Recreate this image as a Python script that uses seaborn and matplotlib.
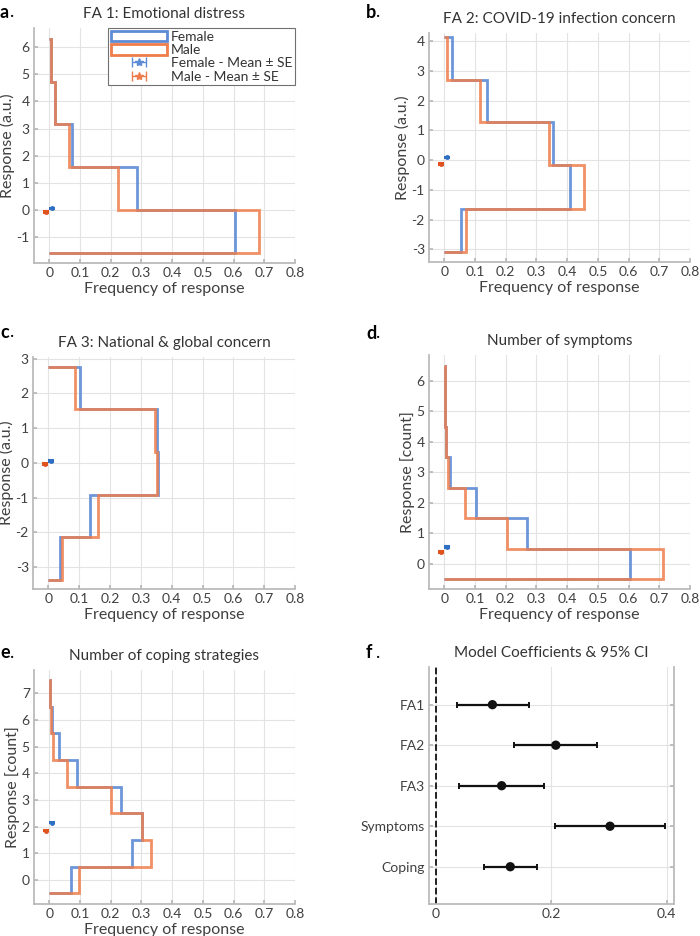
import numpy as np
import matplotlib.pyplot as plt
import seaborn as sns
from matplotlib.patches import Patch

# values
fa1_edges = [-1.57, 0.0, 1.58, 3.15, 4.72, 6.30]
fa1_female = [0.606, 0.284, 0.073, 0.018, 0.004]
fa1_male = [0.682, 0.225, 0.063, 0.017, 0.004]
fa1_mean = [0.06, -0.08]

fa2_edges = [-3.08, -1.63, -0.18, 1.27, 2.71, 4.16]
fa2_female = [0.055, 0.408, 0.354, 0.138, 0.025]
fa2_male = [0.072, 0.456, 0.341, 0.116, 0.009]
fa2_mean = [0.09, -0.12]

fa3_edges = [-3.37, -2.14, -0.91, 0.32, 1.54, 2.77]
fa3_female = [0.038, 0.134, 0.354, 0.351, 0.103]
fa3_male = [0.045, 0.162, 0.352, 0.346, 0.085]
fa3_mean = [0.06, -0.04]

symp_edges = [-0.5, 0.5, 1.5, 2.5, 3.5, 4.5, 5.5, 6.5]
symp_female = [0.603, 0.269, 0.102, 0.020, 0.004, 0.001, 0.001]
symp_male = [0.711, 0.203, 0.068, 0.013, 0.004, 0.001, 0.001]
symp_mean = [0.56, 0.40]

cope_edges = [-0.5, 0.5, 1.5, 2.5, 3.5, 4.5, 5.5, 6.5, 7.5]
cope_female = [0.071, 0.270, 0.303, 0.232, 0.089, 0.031, 0.008, 0.002]
cope_male = [0.096, 0.331, 0.303, 0.201, 0.058, 0.012, 0.005, 0.002]
cope_mean = [2.15, 1.85]

mean_x = [0.01, -0.01]
mean_se = [0.03, 0.03]

coef_names = ['FA1', 'FA2', 'FA3', 'Symptoms', 'Coping']
coef_est = [0.098, 0.208, 0.114, 0.302, 0.129]
coef_lo = [0.036, 0.136, 0.040, 0.206, 0.084]
coef_hi = [0.162, 0.280, 0.188, 0.397, 0.175]

sns.set_theme(style='whitegrid')
plt.rcParams['font.family'] = ['Lato', 'DejaVu Sans']
plt.rcParams['axes.edgecolor'] = '#b8b8b8'
plt.rcParams['grid.color'] = '#e3e3e3'
plt.rcParams['grid.linewidth'] = 0.8
plt.rcParams['xtick.color'] = '#b8b8b8'
plt.rcParams['ytick.color'] = '#b8b8b8'
plt.rcParams['xtick.labelcolor'] = '#404040'
plt.rcParams['ytick.labelcolor'] = '#404040'
plt.rcParams['axes.labelcolor'] = '#404040'
plt.rcParams['text.color'] = '#333333'

c_f_line = '#5d8bd6'
c_m_line = '#ef7d4b'
c_f_mean = '#2f6fc4'
c_m_mean = '#e0531f'

W, H = 700, 936
fig = plt.figure(figsize=(W / 100, H / 100), dpi=100)


def px_axes(l, t, r, b):
    return fig.add_axes([l / W, 1 - b / H, (r - l) / W, (b - t) / H])


def hist_panel(ax, edges, fem, mal, means, ylim, yticks, title, ylabel):
    ax.stairs(fem, edges, orientation='horizontal', baseline=0,
              color=c_f_line, lw=2, alpha=0.9, zorder=3)
    ax.stairs(mal, edges, orientation='horizontal', baseline=0,
              color=c_m_line, lw=2, alpha=0.85, zorder=4)
    for x, y, se, c in zip(mean_x, means, mean_se, [c_f_mean, c_m_mean]):
        ax.errorbar(x, y, yerr=se, fmt='o', color=c, ms=2.5, capsize=2.5,
                    elinewidth=1.2, capthick=1.5, zorder=5)
    ax.set_xlim(-0.05, 0.8)
    ax.set_ylim(*ylim)
    ax.set_xticks(np.arange(0, 0.81, 0.1))
    ax.set_xticklabels(['0'] + ['%.1f' % v for v in np.arange(0.1, 0.81, 0.1)])
    ax.set_yticks(yticks)
    ax.set_yticklabels([str(v) for v in yticks])
    ax.set_xlabel('Frequency of response', fontsize=11.5, labelpad=2)
    ax.set_ylabel(ylabel, fontsize=11.5, labelpad=1)
    ax.set_title(title, fontsize=11, pad=7, color='#333333')
    ax.tick_params(labelsize=10, direction='in', length=3, pad=3,
                   left=True, bottom=True)
    for s in ['top', 'right']:
        ax.spines[s].set_visible(False)
    ax.set_axisbelow(True)


ax_a = px_axes(34, 28, 295, 263)
hist_panel(ax_a, fa1_edges, fa1_female, fa1_male, fa1_mean, (-1.95, 6.7),
           list(range(-1, 7)), 'FA 1: Emotional distress', 'Response (a.u.)')

ax_b = px_axes(429, 33, 690, 262)
hist_panel(ax_b, fa2_edges, fa2_female, fa2_male, fa2_mean, (-3.43, 4.28),
           list(range(-3, 5)), 'FA 2: COVID-19 infection concern', 'Response (a.u.)')

ax_c = px_axes(33, 357, 295, 589)
hist_panel(ax_c, fa3_edges, fa3_female, fa3_male, fa3_mean, (-3.63, 3.05),
           list(range(-3, 4)), 'FA 3: National & global concern', 'Response (a.u.)')

ax_d = px_axes(429, 355, 690, 589)
hist_panel(ax_d, symp_edges, symp_female, symp_male, symp_mean, (-0.82, 6.85),
           list(range(0, 7)), 'Number of symptoms', 'Response [count]')

ax_e = px_axes(34, 670, 295, 904)
hist_panel(ax_e, cope_edges, cope_female, cope_male, cope_mean, (-0.9, 7.87),
           list(range(0, 8)), 'Number of coping strategies', 'Response [count]')

# legend in panel a
h_f = Patch(facecolor='none', edgecolor=c_f_line, lw=2)
h_m = Patch(facecolor='none', edgecolor=c_m_line, lw=2)
e_f = ax_a.errorbar([np.nan], [np.nan], xerr=[1], fmt='*', color=c_f_line,
                    ms=6, capsize=3.5, elinewidth=1)
e_m = ax_a.errorbar([np.nan], [np.nan], xerr=[1], fmt='*', color=c_m_line,
                    ms=6, capsize=3.5, elinewidth=1)
leg = ax_a.legend([h_f, h_m, e_f, e_m],
                  ['Female', 'Male', 'Female - Mean \u00b1 SE', 'Male - Mean \u00b1 SE'],
                  loc='upper right', bbox_to_anchor=(1.0, 1.0), fontsize=10,
                  frameon=True, fancybox=False, framealpha=1, edgecolor='#707070',
                  handlelength=4.0, handleheight=0.8, handletextpad=0.3,
                  labelspacing=0.08, borderpad=0.2, borderaxespad=0)
leg.get_frame().set_linewidth(0.8)
for t in leg.get_texts():
    t.set_color('#333333')

# panel f: coefficients
ax_f = px_axes(429, 667, 674, 904)
ax_f.errorbar(coef_est, coef_names,
              xerr=[np.array(coef_est) - np.array(coef_lo),
                    np.array(coef_hi) - np.array(coef_est)],
              fmt='none', ecolor='#111111', elinewidth=1.6, capsize=2.5,
              capthick=1.4, zorder=3)
sns.scatterplot(x=coef_est, y=coef_names, color='#111111', s=45,
                edgecolor='none', ax=ax_f, zorder=4)
ax_f.axvline(0, color='#111111', ls='--', lw=1.3, zorder=2)
ax_f.set_xlim(-0.012, 0.413)
ax_f.set_ylim(4.92, -0.93)
ax_f.set_xticks([0, 0.2, 0.4])
ax_f.set_xticklabels(['0', '0.2', '0.4'])
ax_f.set_title('Model Coefficients & 95% CI', fontsize=11, pad=7, color='#333333')
ax_f.tick_params(labelsize=10, direction='in', length=3, pad=3,
                 left=True, right=True, bottom=True)
ax_f.spines['top'].set_visible(False)
ax_f.set_axisbelow(True)

# panel letters
for lab, x, y in [('a', 0, 12), ('b', 366, 12), ('c', 0, 332),
                  ('d', 366, 333), ('e', 0, 653), ('f', 366, 653)]:
    fig.text(x / W, 1 - y / H, lab, fontsize=13, fontweight='bold',
             color='black', va='center', ha='left')
    fig.text((x + 10) / W, 1 - y / H, '.', fontsize=13, color='black',
             va='center', ha='left')

fig.savefig('out.png', dpi=100)
